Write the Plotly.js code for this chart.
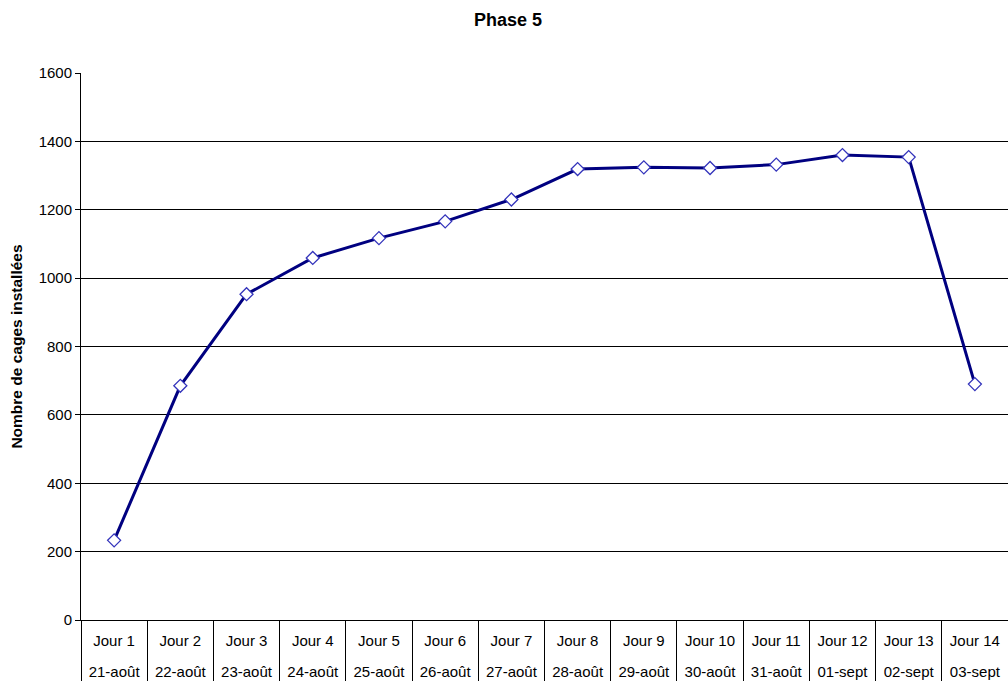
<!DOCTYPE html>
<html>
<head>
<meta charset="utf-8">
<script src="https://cdn.plot.ly/plotly-3.0.1.min.js"></script>
<style>html,body{margin:0;padding:0;background:#fff;}#chart{width:1008px;height:683px;}</style>
</head>
<body>
<div id="chart"></div>
<script>
const jours = ["Jour 1","Jour 2","Jour 3","Jour 4","Jour 5","Jour 6","Jour 7","Jour 8","Jour 9","Jour 10","Jour 11","Jour 12","Jour 13","Jour 14"];
const dates = ["21-août","22-août","23-août","24-août","25-août","26-août","27-août","28-août","29-août","30-août","31-août","01-sept","02-sept","03-sept"];
const cages = [233, 685, 953, 1059, 1117, 1166, 1230, 1319, 1324, 1322, 1332, 1360, 1354, 690];
const yTicks = [0, 200, 400, 600, 800, 1000, 1200, 1400, 1600];

// a tall invisible spacer widens the gap between the two label rows
const sp = '<span style="font-size:32px">\u00A0</span>';
const innerLabels = jours.map(j => sp + j + sp);

const trace = {
  type: 'scatter',
  mode: 'lines+markers',
  x: [dates, innerLabels],
  y: cages,
  line: {color: '#000080', width: 3},
  marker: {symbol: 'diamond', size: 10, color: '#ffffff', line: {color: '#3333bb', width: 1.3}},
  hoverinfo: 'y'
};

const layout = {
  width: 1008, height: 683,
  margin: {l: 81, r: 0, t: 73, b: 63},
  paper_bgcolor: '#ffffff', plot_bgcolor: '#ffffff',
  font: {family: 'Liberation Sans, Arial, sans-serif', color: '#000', size: 15},
  title: {text: '<b>Phase 5</b>', x: 0.504, xref: 'container', xanchor: 'center', y: 1 - 20/683, yref: 'container', yanchor: 'middle', font: {size: 18, color: '#000'}},
  showlegend: false,
  xaxis: {
    type: 'multicategory',
    range: [-0.5, 13.5],
    showline: true, linecolor: '#000', linewidth: 1,
    showgrid: false, zeroline: false,
    tickson: 'boundaries',
    ticks: 'outside', ticklen: 8, tickcolor: '#000', tickwidth: 1,
    ticklabelstandoff: 7,
    tickangle: 0,
    showdividers: true, dividercolor: '#000', dividerwidth: 1,
    tickfont: {size: 15, color: '#000'}
  },
  yaxis: {
    range: [0, 1600],
    tickvals: yTicks,
    ticktext: yTicks.map(String),
    showline: true, linecolor: '#000', linewidth: 1,
    showgrid: true, gridcolor: '#000', gridwidth: 1,
    zeroline: false,
    ticks: 'outside', ticklen: 5, tickcolor: '#000',
    tickfont: {size: 15, color: '#000'},
    title: {text: '<b>Nombre de cages installées</b>', font: {size: 15.5, color: '#000'}, standoff: 12}
  }
};

Plotly.newPlot('chart', [trace], layout, {displayModeBar: false, staticPlot: true});
</script>
</body>
</html>
